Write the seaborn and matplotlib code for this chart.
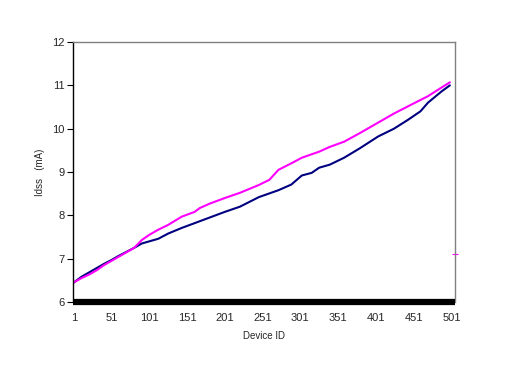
import matplotlib
matplotlib.use("Agg")
import matplotlib.pyplot as plt
import seaborn as sns
import pandas as pd

device_navy = [1, 11, 21, 31, 41, 51, 61, 71, 81, 91, 101, 113, 126, 144, 161, 181, 201, 221,
               246, 272, 289, 303, 316, 326, 340, 359, 380, 404, 425, 444, 460, 470, 488, 499]
idss_navy = [6.45, 6.58, 6.68, 6.78, 6.88, 6.97, 7.07, 7.16, 7.25, 7.35, 7.40, 7.46, 7.58, 7.71,
             7.82, 7.95, 8.08, 8.20, 8.42, 8.58, 8.71, 8.92, 8.98, 9.10, 9.17, 9.33, 9.55, 9.82,
             10.00, 10.21, 10.40, 10.60, 10.86, 11.00]

device_mag = [1, 11, 21, 31, 41, 51, 61, 71, 81, 91, 101, 113, 126, 144, 161, 168, 181, 201, 221,
              246, 260, 272, 289, 303, 326, 340, 359, 380, 404, 425, 444, 470, 488, 499]
idss_mag = [6.45, 6.55, 6.63, 6.73, 6.85, 6.95, 7.05, 7.15, 7.25, 7.43, 7.55, 7.67, 7.78, 7.97,
            8.08, 8.17, 8.27, 8.40, 8.52, 8.70, 8.82, 9.05, 9.20, 9.33, 9.47, 9.58, 9.70, 9.90,
            10.14, 10.35, 10.52, 10.75, 10.95, 11.07]

extra_x = [506]
extra_y = [7.11]

x_ticks = [1, 51, 101, 151, 201, 251, 301, 351, 401, 451, 501]
y_ticks = [6, 7, 8, 9, 10, 11, 12]

df = pd.concat([
    pd.DataFrame({"Device": device_navy, "Idss": idss_navy, "Series": "A"}),
    pd.DataFrame({"Device": device_mag, "Idss": idss_mag, "Series": "B"}),
])

sns.set_style("white")
plt.rcParams["font.family"] = ["Liberation Sans", "DejaVu Sans"]

fig = plt.figure(figsize=(5.12, 3.84), dpi=100)
ax = fig.add_axes([0.1426, 0.2135, 0.889 - 0.1426, 0.8906 - 0.2135])

sns.lineplot(data=df, x="Device", y="Idss", hue="Series",
             palette={"A": "#000080", "B": "#FF00FF"}, hue_order=["A", "B"],
             linewidth=1.5, legend=False, ax=ax, sort=False)
ax.plot(extra_x, extra_y, marker="+", color="#FF00FF", markersize=4, markeredgewidth=0.8,
        linestyle="none", clip_on=False)

ax.set_xlim(0, 506)
ax.set_ylim(6, 12)
ax.set_xticks(x_ticks)
ax.set_yticks(y_ticks)
ax.tick_params(axis="y", which="both", direction="out", length=4, width=0.8, color="black",
               labelsize=8, pad=2, left=True)
ax.tick_params(axis="x", length=0, labelsize=8, pad=8)

ax.set_xlabel("Device ID", fontsize=7, labelpad=6)
ax.set_ylabel("Idss   (mA)", fontsize=7, labelpad=5)

for s in ["top", "right"]:
    ax.spines[s].set_color("#808080")
    ax.spines[s].set_linewidth(1)
ax.spines["left"].set_color("black")
ax.spines["left"].set_linewidth(1)
ax.spines["bottom"].set_color("black")
ax.spines["bottom"].set_linewidth(4.5)
ax.spines["bottom"].set_capstyle("butt")
ax.grid(False)

fig.savefig("out.png", dpi=100)
